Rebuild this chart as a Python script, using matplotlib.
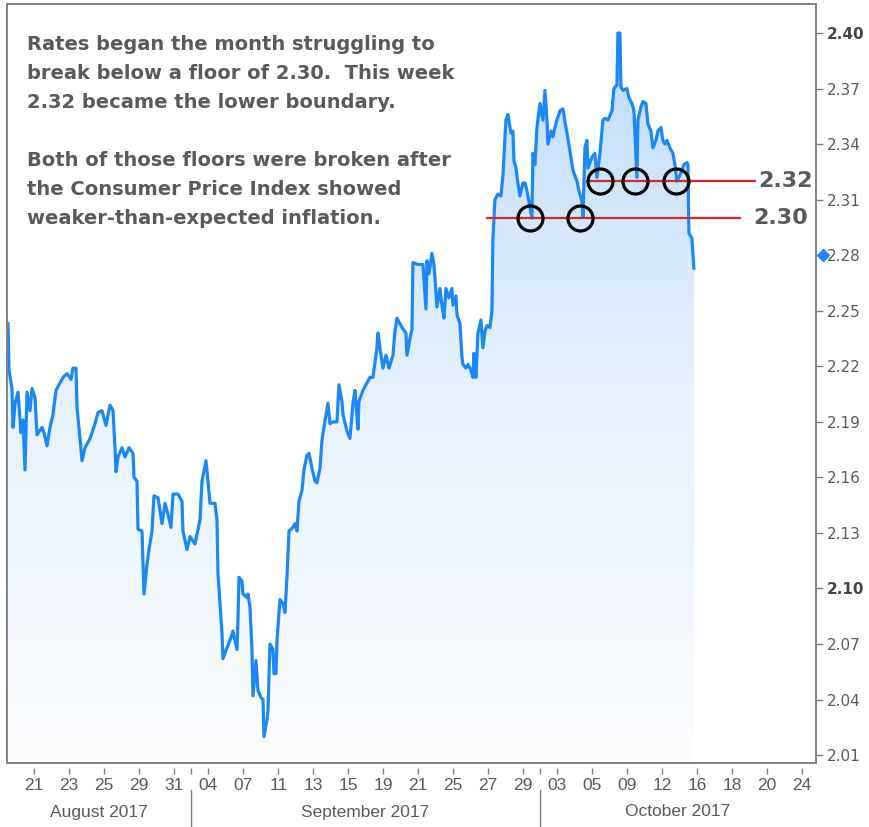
import numpy as np
import matplotlib
matplotlib.use("Agg")
import matplotlib.pyplot as plt
import matplotlib.transforms as mtransforms
from matplotlib.colors import LinearSegmentedColormap
from matplotlib.patches import Rectangle, PathPatch

# tick labels along the bottom (one per tick slot)
day_labels = ["21", "23", "25", "29", "31", "04", "07", "11", "13", "15", "19", "21",
              "25", "27", "29", "03", "05", "09", "12", "16", "18", "20", "24"]
months = ["August 2017", "September 2017", "October 2017"]
month_breaks = [4.5, 14.5]

# 10-yr yield, position in tick slots / value
x_pos = [-0.745, -0.716, -0.630, -0.602, -0.544, -0.487, -0.458, -0.372, -0.315, -0.258,
         -0.201, -0.115, -0.057, 0.029, 0.086, 0.229, 0.287, 0.372, 0.458, 0.544,
         0.630, 0.745, 0.831, 0.946, 1.060, 1.117, 1.203, 1.232, 1.318, 1.375,
         1.461, 1.605, 1.748, 1.834, 1.948, 2.063, 2.178, 2.264, 2.321, 2.350,
         2.407, 2.521, 2.607, 2.722, 2.837, 2.865, 2.951, 2.980, 3.095, 3.152,
         3.238, 3.295, 3.381, 3.438, 3.553, 3.668, 3.754, 3.840, 3.926, 3.983,
         4.126, 4.241, 4.269, 4.384, 4.470, 4.613, 4.756, 4.814, 4.928, 4.986,
         5.043, 5.186, 5.244, 5.272, 5.330, 5.387, 5.415, 5.530, 5.616, 5.702,
         5.817, 5.845, 5.874, 5.960, 5.989, 6.103, 6.132, 6.189, 6.246, 6.275,
         6.361, 6.418, 6.504, 6.562, 6.590, 6.676, 6.705, 6.762, 6.848, 6.877,
         6.934, 6.963, 7.049, 7.135, 7.192, 7.249, 7.307, 7.421, 7.479, 7.536,
         7.593, 7.679, 7.736, 7.822, 7.880, 7.966, 8.052, 8.109, 8.195, 8.252,
         8.309, 8.395, 8.424, 8.481, 8.567, 8.682, 8.739, 8.825, 8.854, 8.968,
         9.054, 9.140, 9.198, 9.284, 9.312, 9.427, 9.542, 9.628, 9.713, 9.828,
         9.857, 9.914, 10.000, 10.086, 10.172, 10.287, 10.344, 10.401, 10.544, 10.659,
         10.688, 10.774, 10.831, 10.860, 11.003, 11.146, 11.232, 11.261, 11.318, 11.404,
         11.461, 11.490, 11.547, 11.633, 11.691, 11.748, 11.805, 11.891, 11.977, 12.006,
         12.092, 12.120, 12.206, 12.264, 12.292, 12.378, 12.436, 12.521, 12.579, 12.607,
         12.665, 12.722, 12.808, 12.865, 12.923, 12.980, 13.066, 13.123, 13.152, 13.209,
         13.295, 13.381, 13.438, 13.524, 13.582, 13.668, 13.725, 13.754, 13.811, 13.868,
         13.926, 14.011, 14.069, 14.126, 14.183, 14.269, 14.298, 14.355, 14.413, 14.499,
         14.585, 14.642, 14.699, 14.728, 14.814, 14.871, 14.928, 14.986, 15.072, 15.158,
         15.244, 15.301, 15.387, 15.444, 15.559, 15.616, 15.702, 15.731, 15.788, 15.845,
         15.874, 15.989, 16.074, 16.132, 16.218, 16.304, 16.361, 16.447, 16.562, 16.619,
         16.705, 16.734, 16.791, 16.819, 16.877, 16.991, 17.049, 17.135, 17.192, 17.278,
         17.307, 17.393, 17.450, 17.536, 17.593, 17.679, 17.736, 17.822, 17.880, 17.966,
         18.023, 18.080, 18.138, 18.223, 18.309, 18.367, 18.424, 18.481, 18.567, 18.625,
         18.711, 18.739, 18.768, 18.854, 18.883, 18.911]
yields = [2.243, 2.218, 2.208, 2.187, 2.200, 2.204, 2.206, 2.184, 2.191, 2.164,
          2.206, 2.196, 2.208, 2.203, 2.183, 2.187, 2.184, 2.177, 2.187, 2.194,
          2.207, 2.211, 2.214, 2.216, 2.213, 2.219, 2.219, 2.198, 2.181, 2.169,
          2.176, 2.181, 2.189, 2.195, 2.196, 2.188, 2.199, 2.196, 2.176, 2.163,
          2.171, 2.176, 2.171, 2.176, 2.173, 2.160, 2.158, 2.132, 2.131, 2.097,
          2.113, 2.121, 2.131, 2.150, 2.149, 2.135, 2.146, 2.140, 2.133, 2.151,
          2.151, 2.147, 2.131, 2.121, 2.128, 2.124, 2.137, 2.158, 2.169, 2.158,
          2.146, 2.146, 2.137, 2.108, 2.092, 2.076, 2.062, 2.068, 2.072, 2.077,
          2.067, 2.083, 2.106, 2.104, 2.097, 2.095, 2.097, 2.090, 2.067, 2.042,
          2.061, 2.045, 2.041, 2.040, 2.020, 2.029, 2.034, 2.070, 2.067, 2.054,
          2.054, 2.072, 2.094, 2.092, 2.087, 2.106, 2.131, 2.133, 2.135, 2.131,
          2.147, 2.153, 2.164, 2.172, 2.173, 2.165, 2.158, 2.157, 2.165, 2.180,
          2.187, 2.197, 2.200, 2.189, 2.190, 2.190, 2.210, 2.201, 2.194, 2.185,
          2.181, 2.200, 2.207, 2.186, 2.201, 2.207, 2.211, 2.214, 2.214, 2.230,
          2.238, 2.230, 2.219, 2.226, 2.219, 2.226, 2.239, 2.246, 2.241, 2.238,
          2.226, 2.235, 2.240, 2.276, 2.275, 2.275, 2.251, 2.277, 2.270, 2.281,
          2.275, 2.268, 2.252, 2.262, 2.253, 2.246, 2.262, 2.257, 2.262, 2.253,
          2.258, 2.248, 2.243, 2.225, 2.221, 2.219, 2.221, 2.218, 2.214, 2.227,
          2.214, 2.238, 2.245, 2.230, 2.239, 2.242, 2.241, 2.250, 2.289, 2.310,
          2.313, 2.312, 2.323, 2.353, 2.356, 2.346, 2.347, 2.331, 2.327, 2.319,
          2.312, 2.319, 2.319, 2.315, 2.309, 2.300, 2.335, 2.329, 2.349, 2.362,
          2.353, 2.369, 2.353, 2.340, 2.347, 2.344, 2.349, 2.353, 2.358, 2.359,
          2.349, 2.343, 2.333, 2.326, 2.320, 2.315, 2.309, 2.301, 2.338, 2.342,
          2.327, 2.333, 2.335, 2.322, 2.335, 2.353, 2.354, 2.353, 2.358, 2.370,
          2.372, 2.400, 2.400, 2.371, 2.369, 2.370, 2.365, 2.362, 2.358, 2.322,
          2.353, 2.360, 2.363, 2.362, 2.351, 2.347, 2.338, 2.342, 2.347, 2.349,
          2.342, 2.340, 2.342, 2.338, 2.335, 2.329, 2.320, 2.322, 2.326, 2.329,
          2.330, 2.329, 2.292, 2.289, 2.281, 2.273]

floors = [2.30, 2.32]
floor_start = [12.98, 15.93]
floor_end = [20.23, 20.66]
floor_text_x = [21.40, 21.55]
touch_x = [14.21, 15.64, 16.22, 17.22, 18.40]
touch_y = [2.30, 2.30, 2.32, 2.32, 2.32]
y_ticks = [2.01, 2.04, 2.07, 2.10, 2.13, 2.16, 2.19, 2.22, 2.25, 2.28, 2.31, 2.34, 2.37, 2.40]
bold_ticks = [2.10, 2.40]
last_value = 2.28

note_lines = ["Rates began the month struggling to",
              "break below a floor of 2.30.  This week",
              "2.32 became the lower boundary.",
              "",
              "Both of those floors were broken after",
              "the Consumer Price Index showed",
              "weaker-than-expected inflation."]

blue = "#1a88f8"
grey = "#5a5a5a"
axfont = ["Liberation Sans", "DejaVu Sans"]

W, H = 869, 827
fig = plt.figure(figsize=(W / 100, H / 100), dpi=100)
ax = fig.add_axes([7 / W, 64 / H, (816 - 7) / W, (763 - 4) / H])
x0, x1 = -0.774, 22.41
y0, y1 = 2.0057, 2.4157

# gradient fill under the line
fb = ax.fill_between(x_pos, yields, y0, color="none", lw=0)
clip = PathPatch(fb.get_paths()[0], transform=ax.transData, fc="none", ec="none")
ax.add_patch(clip)
cmap = LinearSegmentedColormap.from_list("fade", ["#fcfdff", "#e6f1fd", "#bcdbfa"])
grad = np.linspace(1, 0, 256).reshape(-1, 1)
im = ax.imshow(grad, cmap=cmap, aspect="auto", extent=[x0, x1, y0, y1],
               origin="upper", zorder=1)
im.set_clip_path(clip)

ax.plot(x_pos, yields, color=blue, lw=2.3, zorder=3)

# floors
for lvl, xs, xe, tx in zip(floors, floor_start, floor_end, floor_text_x):
    ax.plot([xs, xe], [lvl, lvl], color="#d7262c", lw=1.6, zorder=4, clip_on=False)
    ax.text(tx, lvl, f"{lvl:.2f}", ha="center", va="center", fontsize=16,
            fontweight="bold", color=grey, zorder=6)
ax.plot(touch_x, touch_y, "o", ms=18, mfc="none", mec="black", mew=2.3, zorder=5)

ax.set_xlim(x0, x1)
ax.set_ylim(y0, y1)

for s in ax.spines.values():
    s.set_color("none")
ax.spines["bottom"].set_position(("outward", 3.6))
ax.add_patch(Rectangle((0, 0), 1, 1, transform=ax.transAxes, fill=False,
                       ec="#808080", lw=1.4, clip_on=False, zorder=7))

ax.yaxis.tick_right()
ax.set_yticks(y_ticks)
ax.set_yticklabels([f"{v:.2f}" for v in y_ticks])
ax.tick_params(axis="y", length=5, width=1, color="#808080", labelsize=11,
               labelcolor=grey, pad=3)
for lab, v in zip(ax.get_yticklabels(), y_ticks):
    if round(v, 2) in bold_ticks:
        lab.set_fontweight("bold")
        lab.set_color("#444444")

ax.set_xticks(range(len(day_labels)))
ax.set_xticklabels(day_labels, family=axfont)
ax.set_xticks(month_breaks, minor=True)
ax.tick_params(axis="x", which="both", length=4, width=1, color="#808080",
               labelsize=12.5, labelcolor=grey, pad=3)

ax.plot([x1 + 0.2], [last_value], "D", color=blue, ms=6, clip_on=False, zorder=8)

# month captions
blend = mtransforms.blended_transform_factory(ax.transData, fig.transFigure)
edges = [x0] + month_breaks + [x1]
for i, m in enumerate(months):
    ax.text((edges[i] + edges[i + 1]) / 2, 1 - 812 / H, m, transform=blend,
            ha="center", va="center", fontsize=12.5, color=grey, family=axfont)
for b in month_breaks:
    ax.plot([b, b], [1 - 790 / H, 1 - 827 / H], transform=blend, color="#808080",
            lw=1, clip_on=False)

# commentary
base = 50
for ln in note_lines:
    fig.text(27 / W, 1 - base / H, ln, ha="left", va="baseline", fontsize=14,
             fontweight="bold", color=grey)
    base += 29

fig.savefig("out.png", dpi=100, facecolor="white")
